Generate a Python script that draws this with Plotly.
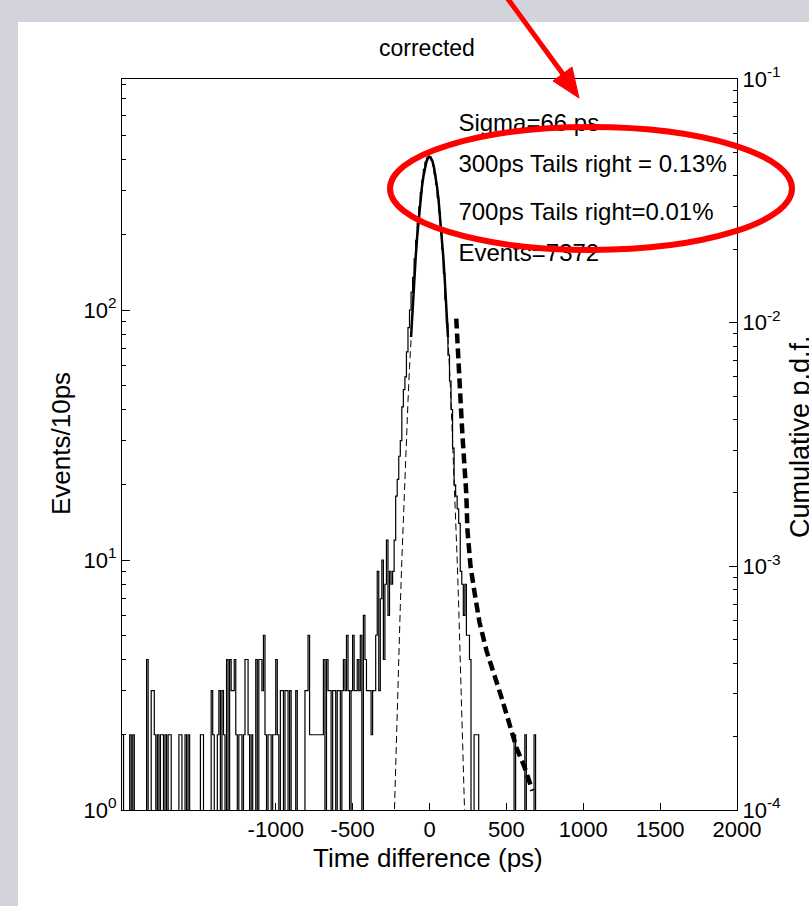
import plotly.graph_objects as go

# ---------------- data ----------------
bin_start = -2000          # left edge of first 10 ps bin
bin_width = 10
counts = [
    # -2000 .. -1410
    2,0,0,0,0,2,0,2,0,0, 0,0,0,0,0,0,4,0,0,3, 3,2,0,2,0,2,2,0,2,0,
    2,2,0,0,0,0,0,2,2,0, 0,2,0,2,0,0,0,0,0,0, 0,2,2,0,0,0,0,0,3,2,
    # -1400 .. -810
    0,0,2,3,0,3,2,0,4,0, 4,3,3,4,2,0,2,2,0,2, 4,4,2,0,2,0,0,4,0,4,
    4,3,5,2,0,2,2,0,2,2, 4,2,0,3,3,0,3,3,0,3, 0,0,0,3,0,0,0,0,0,3,
    # -800 .. -210
    3,5,2,2,2,2,2,2,2,2, 2,4,0,4,3,3,0,3,3,0, 3,3,0,3,4,3,5,3,0,3,
    5,3,3,4,3,5,0,6,4,3, 3,3,2,3,3,5,9,3,7,10, 4,8,12,6,9,8,9,12,18,21,
    # -200 .. 390
    26,30,41,48,54,68,85,100,118,135, 160,190,222,258,295,330,365,390,405,412,
    410,398,378,350,318,282,246,210,175,140, 110,88,66,52,40,28,20,18,16,14,
    9,8,6,8,5,5,4,0,0,2, 2,2,0,0,0,0,0,0,0,0,
    # 400 .. 690
    0,0,0,0,0,0,0,0,0,0, 0,0,0,0,0,2,0,0,0,0, 0,0,2,0,0,0,0,0,2,0,
]

gauss_x = [-240,-230,-220,-210,-200,-190,-180,-170,-160,-150,-140,-130,-120,-110,-100,-90,-80,-70,-60,-50,-40,-30,-20,-10,
           0,10,20,30,40,50,60,70,80,90,100,110,120,130,140,150,160,170,180,190,200,210,220,230,240]
gauss_y = [0.55,0.95,1.6,2.6,4.2,6.5,10,15,22,31,43,59,78,102,130,162,197,234,271,308,341,370,392,405,
           410,405,392,370,341,308,271,234,197,162,130,102,78,59,43,31,22,15,10,6.5,4.2,2.6,1.6,0.95,0.55]
fit_range = 120   # solid part of the fit

cum_x = [174,182,195,206,215,228,239,247,267,293,325,371,410,468,507,566,618,670]
cum_y = [0.0104,0.0079,0.0058,0.0043,0.0034,0.0027,0.0020,0.0014,0.0010,0.00078,0.00059,
         0.00045,0.00038,0.00029,0.00024,0.00018,0.00015,0.00012]

stats_text = ["Sigma=66 ps", "300ps Tails right = 0.13%", "700ps Tails right=0.01%", "Events=7372"]

x_ticks = [-1000, -500, 0, 500, 1000, 1500, 2000]

# ---------------- figure ----------------
edges = [bin_start + bin_width * i for i in range(len(counts) + 1)]
plot_counts = [c if c > 0 else 1e-3 for c in counts] + [1e-3]

FONT = "Liberation Sans, Arial, Helvetica"
fig = go.Figure()
fig.add_trace(go.Scatter(x=edges, y=plot_counts, mode="lines", line=dict(color="black", width=1.2, shape="hv"),
                         hoverinfo="skip"))
fig.add_trace(go.Scatter(x=gauss_x, y=gauss_y, mode="lines", line=dict(color="black", width=1, dash="7px,4px"),
                         hoverinfo="skip"))
fx = [x for x in gauss_x if abs(x) <= fit_range]
fy = [y for x, y in zip(gauss_x, gauss_y) if abs(x) <= fit_range]
fig.add_trace(go.Scatter(x=fx, y=fy, mode="lines", line=dict(color="black", width=2.5), hoverinfo="skip"))
fig.add_trace(go.Scatter(x=cum_x, y=cum_y, mode="lines", yaxis="y2",
                         line=dict(color="black", width=4.5, dash="10px,5px"), hoverinfo="skip"))

# pixel -> paper helpers (layout placement only)
L, R, T, B = 122, 737, 79, 810
W, H = R - L, B - T
def px(x): return (x - L) / W
def py(y): return (B - y) / H

text_y_px = [125, 166, 214, 255]
ylog_top = 2.924
fig.add_trace(go.Scatter(
    x=[188] * 4,
    y=[10 ** (ylog_top - (yy - T) / 250.0) for yy in text_y_px],
    mode="text", text=stats_text, textposition="middle right",
    textfont=dict(family=FONT, size=24, color="black"),
    cliponaxis=False, hoverinfo="skip"))

sup = lambda e: "10<sup>%s</sup>" % e
fig.update_layout(
    width=809, height=906,
    margin=dict(l=L, r=809 - R, t=T, b=906 - B),
    paper_bgcolor="#d3d3db", plot_bgcolor="white",
    showlegend=False,
    font=dict(family=FONT, color="black"),
    xaxis=dict(range=[-2000, 2000], tickvals=x_ticks, ticktext=[str(v) for v in x_ticks],
               ticks="inside", ticklen=7, tickcolor="black", showline=True, linecolor="black",
               linewidth=1, mirror=True, showgrid=False, zeroline=False, tickfont=dict(size=22)),
    yaxis=dict(type="log", range=[0, ylog_top], tickvals=[1, 10, 100],
               ticktext=[sup(0), sup(1), sup(2)], ticks="inside", ticklen=8, tickcolor="black",
               minor=dict(ticks="inside", ticklen=4, tickcolor="black",
                          tickvals=[2,3,4,5,6,7,8,9,20,30,40,50,60,70,80,90,200,300,400,500,600,700,800]),
               showline=True, linecolor="black", showgrid=False, zeroline=False, tickfont=dict(size=22)),
    yaxis2=dict(type="log", range=[-4, -1], overlaying="y", side="right", anchor="x",
                tickvals=[1e-4, 1e-3, 1e-2, 1e-1], ticktext=[sup("-4"), sup("-3"), sup("-2"), sup("-1")],
                ticks="inside", ticklen=8, tickcolor="black",
                minor=dict(ticks="inside", ticklen=4, tickcolor="black",
                           tickvals=[2e-4,3e-4,4e-4,5e-4,6e-4,7e-4,8e-4,9e-4,2e-3,3e-3,4e-3,5e-3,6e-3,7e-3,8e-3,9e-3,
                                     2e-2,3e-2,4e-2,5e-2,6e-2,7e-2,8e-2,9e-2]),
                showline=True, linecolor="black", showgrid=False, zeroline=False, tickfont=dict(size=22)),
)

def label(text, x, y, size, angle=0):
    fig.add_annotation(text=text, x=px(x), y=py(y), xref="paper", yref="paper", showarrow=False,
                       xanchor="center", yanchor="middle", textangle=angle, font=dict(size=size))

label("corrected", 427, 48, 23)
label("Time difference (ps)", 428, 858, 26)
label("Events/10ps", 61, 444, 26, -90)
label("Cumulative p.d.f.", 800, 437, 27, -90)

# slide background (white panel)
fig.add_shape(type="rect", xref="paper", yref="paper", x0=px(18), x1=px(830), y0=py(930), y1=py(22),
              fillcolor="white", line=dict(width=0), layer="below")
# red ellipse
fig.add_shape(type="circle", xref="paper", yref="paper", x0=px(390), x1=px(792), y0=py(250), y1=py(127),
              line=dict(color="#ff0000", width=6), layer="above")
# red arrow
fig.add_shape(type="line", xref="paper", yref="paper", x0=px(505), y0=py(-5), x1=px(568), y1=py(81),
              line=dict(color="#ff0000", width=5), layer="above")
tip = (579, 98)
fig.add_shape(type="path", xref="paper", yref="paper",
              path="M %f %f L %f %f L %f %f Z" % (px(tip[0]), py(tip[1]), px(553), py(81), px(572), py(67)),
              fillcolor="#ff0000", line=dict(color="#ff0000", width=1), layer="above")

fig.write_html("out.html")
